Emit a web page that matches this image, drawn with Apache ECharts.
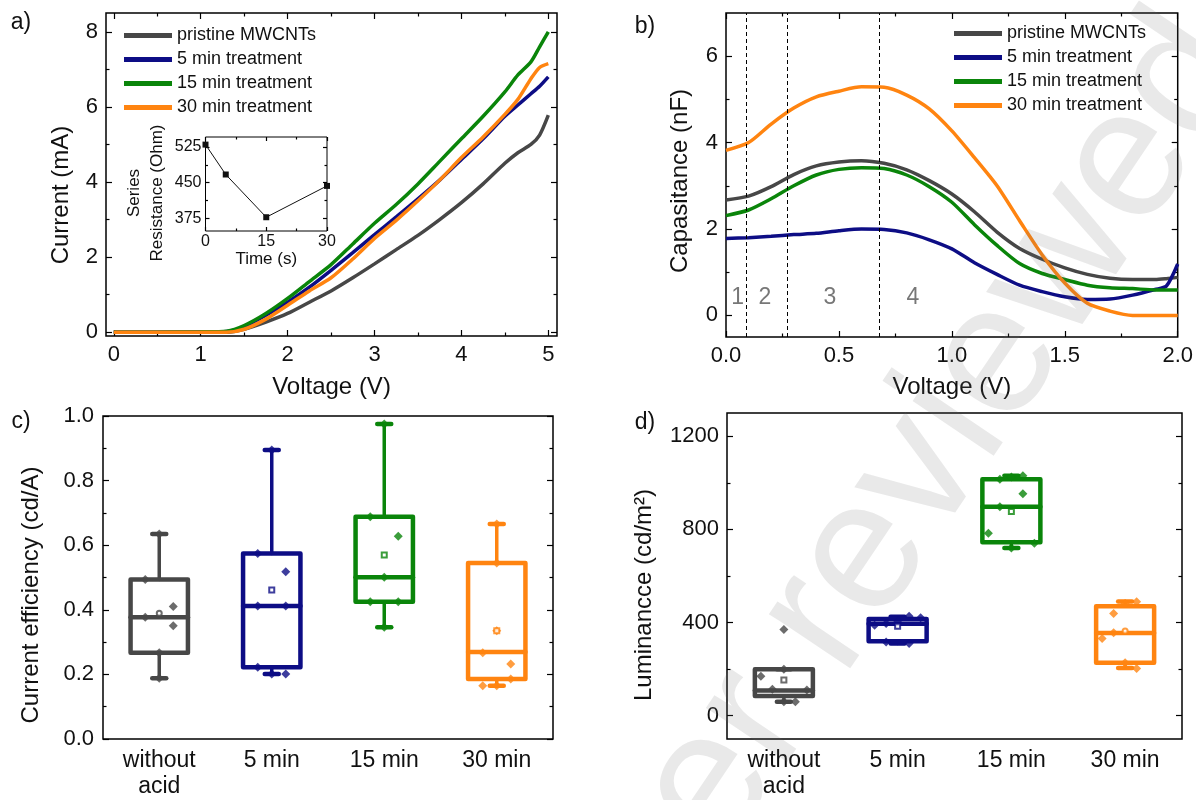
<!DOCTYPE html>
<html>
<head>
<meta charset="utf-8">
<script src="https://cdn.jsdelivr.net/npm/echarts@6/dist/echarts.min.js"></script>
<style>
  html, body { margin: 0; padding: 0; background: #fff; }
  #chart { width: 1196px; height: 800px; }
</style>
</head>
<body>
<div id="chart"></div>
<script>
const FONT = '"Liberation Sans", Arial, sans-serif';
const seriesNames = ['pristine MWCNTs', '5 min treatment', '15 min treatment', '30 min treatment'];
const seriesColors = ['#474747', '#0d0d85', '#0a850a', '#ff8410'];

// a) I-V curves
const ivVoltage = [0, 0.5, 1.0, 1.3, 1.5, 1.75, 2.0, 2.25, 2.5, 2.75, 3.0, 3.25, 3.5, 3.75, 4.0, 4.25, 4.5, 4.65, 4.8, 4.9, 5.0];
const ivPristine = [0, 0, 0, 0, 0.08, 0.27, 0.5, 0.8, 1.1, 1.45, 1.82, 2.2, 2.58, 3.0, 3.45, 3.95, 4.5, 4.78, 5.0, 5.25, 5.78];
const ivMin5 = [0, 0, 0.01, 0.02, 0.15, 0.45, 0.8, 1.2, 1.65, 2.12, 2.6, 3.07, 3.55, 4.05, 4.6, 5.15, 5.75, 6.05, 6.35, 6.55, 6.8];
const ivMin15 = [0, 0, 0.01, 0.03, 0.18, 0.5, 0.9, 1.35, 1.8, 2.35, 2.9, 3.4, 3.95, 4.55, 5.15, 5.75, 6.4, 6.85, 7.2, 7.6, 8.0];
const ivMin30 = [0, 0, 0, 0, 0.08, 0.35, 0.72, 1.1, 1.45, 1.95, 2.5, 2.98, 3.5, 4.05, 4.65, 5.2, 5.8, 6.2, 6.75, 7.05, 7.15];
const ivTicksX = [0, 1, 2, 3, 4, 5], ivMinorX = [0.5, 1.5, 2.5, 3.5, 4.5];
const ivTicksY = [0, 2, 4, 6, 8], ivMinorY = [1, 3, 5, 7];

// inset: series resistance vs time
const resTime = [0, 5, 15, 30];
const resOhm = [530, 467, 377, 443];
const resTicksX = [0, 15, 30], resMinorX = [7.5, 22.5];
const resTicksY = [375, 450, 525], resMinorY = [412.5, 487.5];

// b) C-V curves
const capVoltage = [0, 0.1, 0.2, 0.3, 0.4, 0.5, 0.6, 0.7, 0.8, 0.9, 1.0, 1.1, 1.2, 1.3, 1.4, 1.5, 1.6, 1.7, 1.8, 1.9, 1.95, 2.0];
const capPristine = [2.67, 2.76, 2.98, 3.26, 3.46, 3.55, 3.58, 3.52, 3.37, 3.12, 2.81, 2.4, 1.93, 1.55, 1.3, 1.1, 0.95, 0.86, 0.83, 0.83, 0.85, 0.88];
const capMin5 = [1.78, 1.8, 1.83, 1.87, 1.9, 1.96, 2.0, 1.99, 1.91, 1.75, 1.54, 1.22, 0.95, 0.7, 0.55, 0.43, 0.37, 0.38, 0.47, 0.6, 0.68, 1.19];
const capMin15 = [2.31, 2.44, 2.7, 3.0, 3.25, 3.38, 3.42, 3.4, 3.25, 2.98, 2.62, 2.1, 1.62, 1.2, 0.97, 0.83, 0.7, 0.64, 0.62, 0.59, 0.59, 0.59];
const capMin30 = [3.82, 4.0, 4.43, 4.8, 5.06, 5.19, 5.29, 5.28, 5.1, 4.78, 4.27, 3.65, 3.0, 2.19, 1.4, 0.75, 0.28, 0.1, 0.0, 0.0, 0.0, 0.0];
const regionBounds = [0.0875, 0.27, 0.68];
const regionLabels = [['1', 0.052, 0.42], ['2', 0.172, 0.42], ['3', 0.46, 0.42], ['4', 0.827, 0.42]];
const capTicksX = [0, 0.5, 1, 1.5, 2], capMinorX = [0.25, 0.75, 1.25, 1.75];
const capTicksY = [0, 2, 4, 6], capMinorY = [1, 3, 5];

// c) / d) box charts: [lower whisker, Q1, median, Q3, upper whisker]
const catLabels = ['without\nacid', '5 min', '15 min', '30 min'];
const effBox = [[0.188, 0.267, 0.377, 0.494, 0.635], [0.201, 0.222, 0.412, 0.574, 0.895], [0.346, 0.425, 0.501, 0.688, 0.975], [0.165, 0.186, 0.269, 0.545, 0.666]];
const effMean = [0.389, 0.461, 0.570, 0.335];
// single measurements: [value, side]  (side: -1 left, 0 centre, 1 right)
const effPoints = [
  [[0.635, 0], [0.494, -1], [0.41, 1], [0.377, -1], [0.351, 1], [0.267, 0], [0.188, 0]],
  [[0.895, 0], [0.574, -1], [0.518, 1], [0.412, -1], [0.412, 1], [0.222, -1], [0.201, 0], [0.201, 1]],
  [[0.975, 0], [0.688, -1], [0.628, 1], [0.501, 0], [0.425, -1], [0.425, 1], [0.346, 0]],
  [[0.666, 0], [0.545, 0], [0.335, 0], [0.267, -1], [0.232, 1], [0.186, 1], [0.165, -1], [0.165, 0]]
];
const effTicksY = [0, 0.2, 0.4, 0.6, 0.8, 1.0], effMinorY = [0.1, 0.3, 0.5, 0.7, 0.9];

const lumBox = [[60, 85, 108, 200, 200], [310, 320, 395, 415, 425], [720, 745, 897, 1015, 1030], [205, 227, 355, 470, 490]];
const lumMean = [153, 384, 877, 364];
const lumPoints = [
  [[370, 0], [200, 0], [170, -2], [114, -1], [110, 2], [60, 1], [60, 0]],
  [[427, 1], [421, 2], [407, 0], [396, -1], [389, -2], [317, -1], [310, 1]],
  [[1030, 1], [1025, 0], [1015, -1], [953, 1], [897, -1], [784, -2], [741, 2], [720, 0]],
  [[489, 1], [482, 0], [439, -1], [356, -1], [332, -2], [227, 0], [203, 1]]
];
const lumTicksY = [0, 400, 800, 1200], lumMinorY = [200, 600, 1000];

const zip = (xs, ys) => xs.map((x, i) => [x, ys[i]]);

// one axis carrying either major ticks (+labels) or minor ticks
function tickAxis(grid, pos, min, max, ticks, len, label) {
  const ax = {
    type: 'value', gridIndex: grid, position: pos, min: min, max: max,
    axisLine: { show: false, onZero: false },
    splitLine: { show: false },
    axisTick: { show: true, inside: true, length: len, customValues: ticks, lineStyle: { color: '#000', width: 1.2 } },
    axisLabel: { show: false }
  };
  if (label) {
    ax.axisLabel = Object.assign({
      show: true, customValues: ticks, fontFamily: FONT, fontSize: 22, color: '#111', margin: 8,
      formatter: v => String(v)
    }, label);
  }
  return ax;
}

// four axes per dimension: labelled side, its minor ticks, mirrored side and minor
function frameAxes(dim, grid, min, max, majors, minors, label, lens, extra) {
  const pos = dim === 'x' ? ['bottom', 'top'] : ['left', 'right'];
  const l = lens || [6, 3.5];
  const first = Object.assign(tickAxis(grid, pos[0], min, max, majors, l[0], label), extra || {});
  return [
    first,
    tickAxis(grid, pos[0], min, max, minors, l[1]),
    tickAxis(grid, pos[1], min, max, majors, l[0]),
    tickAxis(grid, pos[1], min, max, minors, l[1])
  ];
}

function catAxes(grid) {
  const base = {
    type: 'category', gridIndex: grid, data: catLabels,
    axisLine: { show: false, onZero: false }, splitLine: { show: false },
    axisTick: { inside: true, alignWithLabel: true, length: 6, lineStyle: { color: '#000', width: 1.2 } }
  };
  return [
    Object.assign({}, base, { position: 'bottom', axisLabel: { interval: 0, fontFamily: FONT, fontSize: 23, color: '#111', margin: 9, lineHeight: 26 } }),
    Object.assign({}, base, { position: 'top', axisLabel: { show: false } })
  ];
}

const xTitle = (name, gap) => ({
  name: name, nameLocation: 'middle', nameGap: gap,
  nameTextStyle: { fontFamily: FONT, fontSize: 24, color: '#111' }
});

const xAxes = [].concat(
  frameAxes('x', 0, -0.09, 5.1, ivTicksX, ivMinorX, {}, null, xTitle('Voltage (V)', 39)),        // 0-3
  frameAxes('x', 1, 0, 2.0, capTicksX, capMinorX, { formatter: v => v.toFixed(1) }, null, xTitle('Voltage (V)', 38)), // 4-7
  frameAxes('x', 2, 0, 30, resTicksX, resMinorX, { fontSize: 16, margin: 3 }, [4, 2.5],
    { name: 'Time (s)', nameLocation: 'middle', nameGap: 19, nameTextStyle: { fontFamily: FONT, fontSize: 17, color: '#111' } }), // 8-11
  catAxes(3),  // 12-13
  catAxes(4)   // 14-15
);
const yAxes = [].concat(
  frameAxes('y', 0, -0.1, 8.5, ivTicksY, ivMinorY, {}),                                   // 0-3
  frameAxes('y', 1, -0.5, 7, capTicksY, capMinorY, {}),                                   // 4-7
  frameAxes('y', 2, 348, 546, resTicksY, resMinorY, { fontSize: 16, margin: 4 }, [4, 2.5]), // 8-11
  frameAxes('y', 3, 0, 1.0, effTicksY, effMinorY, { formatter: v => v.toFixed(1), margin: 9 }), // 12-15
  frameAxes('y', 4, -100, 1300, lumTicksY, lumMinorY, {})                                 // 16-19
);

function lineSeries(name, i, data, xi, yi) {
  return {
    type: 'line', name: name, xAxisIndex: xi, yAxisIndex: yi, data: data,
    symbol: 'none', smooth: 0.25,
    lineStyle: { color: seriesColors[i], width: 3.5 }, itemStyle: { color: seriesColors[i] }, z: 3
  };
}

function renderBox(params, api) {
  const cat = api.value(0);
  const lo = api.coord([cat, api.value(1)]);
  const q1 = api.coord([cat, api.value(2)]);
  const med = api.coord([cat, api.value(3)]);
  const q3 = api.coord([cat, api.value(4)]);
  const hi = api.coord([cat, api.value(5)]);
  const half = api.size([1, 0])[0] * 0.255;
  const cap = 7;
  const color = api.visual('color');
  const x = q1[0];
  const seg = (x1, y1, x2, y2, w) => ({
    type: 'line', shape: { x1: x1, y1: y1, x2: x2, y2: y2 },
    style: { stroke: color, lineWidth: w, lineCap: 'round' }
  });
  return {
    type: 'group',
    children: [
      seg(x, lo[1], x, q1[1], 3.5),
      seg(x, q3[1], x, hi[1], 3.5),
      seg(x - cap, lo[1], x + cap, lo[1], 4.5),
      seg(x - cap, hi[1], x + cap, hi[1], 4.5),
      { type: 'rect', shape: { x: x - half, y: q3[1], width: half * 2, height: q1[1] - q3[1] },
        style: { fill: 'none', stroke: color, lineWidth: 4.5, lineJoin: 'round' } },
      seg(x - half, med[1], x + half, med[1], 4.5)
    ]
  };
}

function boxSeries(stats, means, points, step, xi, yi, meanSymbols) {
  return [
    {
      type: 'custom', xAxisIndex: xi, yAxisIndex: yi, renderItem: renderBox, z: 2,
      encode: { x: 0, y: [1, 2, 3, 4, 5] },
      data: stats.map((b, i) => ({ value: [i].concat(b), itemStyle: { color: seriesColors[i] } }))
    },
    {
      type: 'scatter', xAxisIndex: xi, yAxisIndex: yi, symbol: 'diamond', symbolSize: 9, z: 4,
      data: [].concat(...points.map((list, i) => list.map(p => ({
        value: [i, p[0]], symbolOffset: [p[1] * step, 0], itemStyle: { color: seriesColors[i] }
      }))))
    },
    {
      type: 'scatter', xAxisIndex: xi, yAxisIndex: yi, symbolSize: 5, z: 5,
      data: means.map((m, i) => ({ value: [i, m], symbol: meanSymbols[i], itemStyle: { color: seriesColors[i], borderWidth: 1 } }))
    }
  ];
}

const ivData = [ivPristine, ivMin5, ivMin15, ivMin30];
const capData = [capPristine, capMin5, capMin15, capMin30];

const series = [];
ivData.forEach((ys, i) => series.push(lineSeries(seriesNames[i], i, zip(ivVoltage, ys), 0, 0)));
capData.forEach((ys, i) => series.push(lineSeries(seriesNames[i], i, zip(capVoltage, ys), 4, 4)));
series[4].markLine = {
  silent: true, symbol: ['none', 'none'], label: { show: false },
  lineStyle: { type: [4, 3], color: '#000', width: 1 },
  data: regionBounds.map(v => ({ xAxis: v }))
};
series.push({
  type: 'scatter', xAxisIndex: 4, yAxisIndex: 4, symbolSize: 1, itemStyle: { color: 'rgba(0,0,0,0)' },
  data: regionLabels.map(r => ({ value: [r[1], r[2]], name: r[0] })),
  label: { show: true, position: 'inside', formatter: p => p.name, fontFamily: FONT, fontSize: 23, color: '#555' }
});
series.push({
  type: 'line', xAxisIndex: 8, yAxisIndex: 8, data: zip(resTime, resOhm),
  symbol: 'rect', symbolSize: 6, lineStyle: { color: '#111', width: 1 }, itemStyle: { color: '#111' }, z: 4
});
series.push(...boxSeries(effBox, effMean, effPoints, 14, 12, 12, ['emptyCircle', 'emptyRect', 'emptyRect', 'emptyRect']));
series.push(...boxSeries(lumBox, lumMean, lumPoints, 11.5, 14, 16, ['emptyRect', 'emptyRect', 'emptyRect', 'emptyCircle']));

const legendBase = {
  data: seriesNames.map(n => ({ name: n, icon: 'rect' })),
  orient: 'vertical', itemWidth: 48, itemHeight: 5, itemGap: 5, padding: 0,
  selectedMode: false,
  textStyle: { fontFamily: FONT, fontSize: 18, color: '#111', lineHeight: 19 }
};

const vText = (txt, x, y, size, lh) => ({
  type: 'text', x: x, y: y, rotation: Math.PI / 2, silent: true,
  style: { text: txt, font: size + 'px ' + FONT, fill: '#111', textAlign: 'center', textVerticalAlign: 'middle', lineHeight: lh || size }
});
const hText = (txt, x, y) => ({
  type: 'text', x: x, y: y, silent: true,
  style: { text: txt, font: '23px ' + FONT, fill: '#111', textAlign: 'center', textVerticalAlign: 'middle' }
});

const option = {
  backgroundColor: '#fff',
  animation: false,
  grid: [
    { left: 106, top: 13, width: 451, height: 323 },
    { left: 726, top: 13, width: 456, height: 324 },
    { left: 205.5, top: 137, width: 121.5, height: 94, borderWidth: 1 },
    { left: 103, top: 416, width: 450, height: 324 },
    { left: 727, top: 413, width: 455, height: 326 }
  ].map(g => Object.assign({ show: true, borderColor: '#000', borderWidth: 1.5, backgroundColor: 'transparent' }, g)),
  xAxis: xAxes,
  yAxis: yAxes,
  legend: [
    Object.assign({}, legendBase, { left: 124, top: 26 }),
    Object.assign({}, legendBase, { left: 954, top: 24 })
  ],
  series: series,
  graphic: [
    hText('a)', 21, 23), hText('b)', 645, 27), hText('c)', 21, 422), hText('d)', 645, 423),
    vText('Current (mA)', 61, 195, 24),
    vText('Capasitance (nF)', 680, 181, 24),
    vText('Current efficiency (cd/A)', 31, 595, 24),
    vText('Luminancce (cd/m²)', 644, 595, 24),
    vText('Series\nResistance (Ohm)', 146, 193, 17, 23),
    {
      type: 'text', x: 565, y: 1000, rotation: 56 * Math.PI / 180, silent: true, z: 100,
      style: { text: 'peer reviewed', font: '185px ' + FONT, fill: 'rgba(110,110,110,0.15)', textAlign: 'left', textVerticalAlign: 'middle' }
    }
  ]
};

const chart = echarts.init(document.getElementById('chart'), null, { renderer: 'canvas' });
chart.setOption(option);
</script>
</body>
</html>
